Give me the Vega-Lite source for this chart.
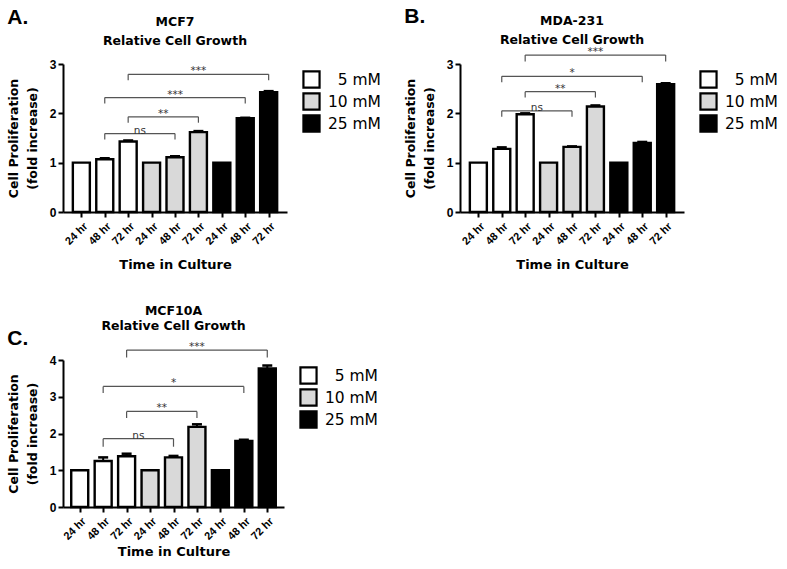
{
  "$schema": "https://vega.github.io/schema/vega-lite/v6.json",
  "background": "white",
  "padding": {"left": 7, "top": 5, "right": 5, "bottom": 2},
  "datasets": {
    "barsA": [
      {"pos": 1, "time": "24 hr", "conc": "5 mM", "value": 1.0, "err": 0, "upper": 1.0},
      {"pos": 2, "time": "48 hr", "conc": "5 mM", "value": 1.07, "err": 0.02, "upper": 1.09},
      {"pos": 3, "time": "72 hr", "conc": "5 mM", "value": 1.43, "err": 0.02, "upper": 1.45},
      {"pos": 4, "time": "24 hr", "conc": "10 mM", "value": 1.0, "err": 0, "upper": 1.0},
      {"pos": 5, "time": "48 hr", "conc": "10 mM", "value": 1.11, "err": 0.02, "upper": 1.13},
      {"pos": 6, "time": "72 hr", "conc": "10 mM", "value": 1.62, "err": 0.02, "upper": 1.64},
      {"pos": 7, "time": "24 hr", "conc": "25 mM", "value": 1.0, "err": 0, "upper": 1.0},
      {"pos": 8, "time": "48 hr", "conc": "25 mM", "value": 1.90, "err": 0.01, "upper": 1.91},
      {"pos": 9, "time": "72 hr", "conc": "25 mM", "value": 2.43, "err": 0.02, "upper": 2.45}
    ],
    "barsB": [
      {"pos": 1, "time": "24 hr", "conc": "5 mM", "value": 1.0, "err": 0, "upper": 1.0},
      {"pos": 2, "time": "48 hr", "conc": "5 mM", "value": 1.28, "err": 0.03, "upper": 1.31},
      {"pos": 3, "time": "72 hr", "conc": "5 mM", "value": 1.98, "err": 0.02, "upper": 2.0},
      {"pos": 4, "time": "24 hr", "conc": "10 mM", "value": 1.0, "err": 0, "upper": 1.0},
      {"pos": 5, "time": "48 hr", "conc": "10 mM", "value": 1.32, "err": 0.01, "upper": 1.33},
      {"pos": 6, "time": "72 hr", "conc": "10 mM", "value": 2.14, "err": 0.02, "upper": 2.16},
      {"pos": 7, "time": "24 hr", "conc": "25 mM", "value": 1.0, "err": 0, "upper": 1.0},
      {"pos": 8, "time": "48 hr", "conc": "25 mM", "value": 1.40, "err": 0.02, "upper": 1.42},
      {"pos": 9, "time": "72 hr", "conc": "25 mM", "value": 2.59, "err": 0.02, "upper": 2.61}
    ],
    "barsC": [
      {"pos": 1, "time": "24 hr", "conc": "5 mM", "value": 1.0, "err": 0, "upper": 1.0},
      {"pos": 2, "time": "48 hr", "conc": "5 mM", "value": 1.25, "err": 0.1, "upper": 1.35},
      {"pos": 3, "time": "72 hr", "conc": "5 mM", "value": 1.38, "err": 0.07, "upper": 1.45},
      {"pos": 4, "time": "24 hr", "conc": "10 mM", "value": 1.0, "err": 0, "upper": 1.0},
      {"pos": 5, "time": "48 hr", "conc": "10 mM", "value": 1.35, "err": 0.04, "upper": 1.39},
      {"pos": 6, "time": "72 hr", "conc": "10 mM", "value": 2.18, "err": 0.07, "upper": 2.25},
      {"pos": 7, "time": "24 hr", "conc": "25 mM", "value": 1.0, "err": 0, "upper": 1.0},
      {"pos": 8, "time": "48 hr", "conc": "25 mM", "value": 1.80, "err": 0.03, "upper": 1.83},
      {"pos": 9, "time": "72 hr", "conc": "25 mM", "value": 3.77, "err": 0.08, "upper": 3.85}
    ],
    "brA": [
      {"from": 2, "to": 5, "mid": 3.5, "y": 1.59, "low": 1.47, "label": "ns"},
      {"from": 3, "to": 6, "mid": 4.5, "y": 1.93, "low": 1.81, "label": "**"},
      {"from": 2, "to": 8, "mid": 5, "y": 2.32, "low": 2.2, "label": "***"},
      {"from": 3, "to": 9, "mid": 6, "y": 2.79, "low": 2.67, "label": "***"}
    ],
    "brB": [
      {"from": 2, "to": 5, "mid": 3.5, "y": 2.05, "low": 1.93, "label": "ns"},
      {"from": 3, "to": 6, "mid": 4.5, "y": 2.44, "low": 2.32, "label": "**"},
      {"from": 2, "to": 8, "mid": 5, "y": 2.75, "low": 2.63, "label": "*"},
      {"from": 3, "to": 9, "mid": 6, "y": 3.18, "low": 3.05, "label": "***"}
    ],
    "brC": [
      {"from": 2, "to": 5, "mid": 3.5, "y": 1.86, "low": 1.64, "label": "ns"},
      {"from": 3, "to": 6, "mid": 4.5, "y": 2.6, "low": 2.42, "label": "**"},
      {"from": 2, "to": 8, "mid": 5, "y": 3.28, "low": 3.1, "label": "*"},
      {"from": 3, "to": 9, "mid": 6, "y": 4.27, "low": 4.07, "label": "***"}
    ]
  },
  "config": {
    "font": "Liberation Sans",
    "view": {"stroke": null},
    "axis": {
      "grid": false,
      "domainColor": "black",
      "domainWidth": 2,
      "tickColor": "black",
      "tickWidth": 2,
      "tickSize": 5,
      "labelFont": "Liberation Sans",
      "labelFontWeight": "bold",
      "labelColor": "black",
      "titleFont": "DejaVu Sans",
      "titleFontWeight": "bold",
      "titleColor": "black"
    },
    "legend": {
      "symbolType": "square",
      "symbolSize": 260,
      "symbolStrokeColor": "black",
      "symbolStrokeWidth": 2.2,
      "symbolOpacity": 1,
      "labelFont": "DejaVu Sans",
      "labelFontSize": 15.5,
      "labelColor": "black",
      "labelAlign": "right",
      "labelOffset": 60,
      "rowPadding": -6,
      "padding": 6,
      "offset": 9
    },
    "title": {
      "font": "DejaVu Sans",
      "fontWeight": "bold",
      "color": "black"
    }
  },
  "resolve": {"scale": {"color": "independent"}, "legend": {"color": "independent"}},
  "spacing": 32,
  "vconcat": [
    {
      "spacing": 17,
      "resolve": {"scale": {"color": "independent"}, "legend": {"color": "independent"}},
      "hconcat": [
        {
          "title": {"text": "A.", "anchor": "start", "font": "Liberation Sans", "fontSize": 21, "frame": "bounds", "offset": -12},
          "resolve": {"scale": {"color": "independent"}, "legend": {"color": "independent"}},
          "vconcat": [
            {
              "width": 224,
              "height": 148,
              "title": {"text": ["MCF7", "Relative Cell Growth"], "fontSize": 12.5, "lineHeight": 19, "offset": 11},
              "layer": [
                {
                  "data": {"name": "barsA"},
                  "mark": {"type": "bar", "width": 17, "stroke": "black", "strokeWidth": 2.4},
                  "encoding": {
                    "x": {"field": "pos", "type": "quantitative", "scale": {"domain": [0.43, 9.57], "nice": false, "zero": false},
                      "axis": {"title": "Time in Culture", "titleFontSize": 13, "titlePadding": 12, "values": [1, 2, 3, 4, 5, 6, 7, 8, 9], "tickCount": 20, "labelExpr": "['24 hr','48 hr','72 hr'][(datum.value - 1) % 3]", "labelAngle": -45, "labelFontSize": 11, "labelPadding": 3, "labelOverlap": false, "labelFlush": false}},
                    "y": {"field": "value", "type": "quantitative", "scale": {"domain": [0, 3], "nice": false},
                      "axis": {"title": ["Cell Proliferation", "(fold increase)"], "titleFontSize": 12.5, "titleLineHeight": 19, "titlePadding": 10, "values": [0, 1, 2, 3], "tickCount": 20, "format": "d", "labelFontSize": 12, "labelPadding": 2, "labelOverlap": false, "labelFlush": false}},
                    "color": {"field": "conc", "type": "nominal", "scale": {"domain": ["5 mM", "10 mM", "25 mM"], "range": ["white", "#d9d9d9", "black"]}, "legend": {"title": null}}
                  }
                },
                {
                  "data": {"name": "barsA"},
                  "transform": [{"filter": "datum.err > 0"}],
                  "mark": {"type": "rule", "strokeWidth": 2, "color": "black"},
                  "encoding": {"x": {"field": "pos", "type": "quantitative"}, "y": {"field": "value", "type": "quantitative"}, "y2": {"field": "upper"}}
                },
                {
                  "data": {"name": "barsA"},
                  "transform": [{"filter": "datum.err > 0"}],
                  "mark": {"type": "tick", "orient": "horizontal", "size": 10, "thickness": 2.5, "color": "black", "opacity": 1},
                  "encoding": {"x": {"field": "pos", "type": "quantitative"}, "y": {"field": "upper", "type": "quantitative"}}
                },
                {
                  "data": {"name": "brA"},
                  "mark": {"type": "rule", "strokeWidth": 1.2, "color": "#555"},
                  "encoding": {"x": {"field": "from", "type": "quantitative"}, "x2": {"field": "to"}, "y": {"field": "y", "type": "quantitative"}}
                },
                {
                  "data": {"name": "brA"},
                  "mark": {"type": "rule", "strokeWidth": 1.2, "color": "#555"},
                  "encoding": {"x": {"field": "from", "type": "quantitative"}, "y": {"field": "low", "type": "quantitative"}, "y2": {"field": "y"}}
                },
                {
                  "data": {"name": "brA"},
                  "mark": {"type": "rule", "strokeWidth": 1.2, "color": "#555"},
                  "encoding": {"x": {"field": "to", "type": "quantitative"}, "y": {"field": "low", "type": "quantitative"}, "y2": {"field": "y"}}
                },
                {
                  "data": {"name": "brA"},
                  "mark": {"type": "text", "baseline": "alphabetic", "dy": 0, "fontSize": 10.5, "color": "#333", "font": "DejaVu Sans"},
                  "encoding": {"x": {"field": "mid", "type": "quantitative"}, "y": {"field": "y", "type": "quantitative"}, "text": {"field": "label"}}
                }
              ]
            }
          ]
        },
        {
          "title": {"text": "B.", "anchor": "start", "font": "Liberation Sans", "fontSize": 21, "frame": "bounds", "offset": -12},
          "resolve": {"scale": {"color": "independent"}, "legend": {"color": "independent"}},
          "vconcat": [
            {
              "width": 224,
              "height": 148,
              "title": {"text": ["MDA-231", "Relative Cell  Growth"], "fontSize": 12.5, "lineHeight": 19, "offset": 1},
              "layer": [
                {
                  "data": {"name": "barsB"},
                  "mark": {"type": "bar", "width": 17, "stroke": "black", "strokeWidth": 2.4},
                  "encoding": {
                    "x": {"field": "pos", "type": "quantitative", "scale": {"domain": [0.43, 9.57], "nice": false, "zero": false},
                      "axis": {"title": "Time in Culture", "titleFontSize": 13, "titlePadding": 12, "values": [1, 2, 3, 4, 5, 6, 7, 8, 9], "tickCount": 20, "labelExpr": "['24 hr','48 hr','72 hr'][(datum.value - 1) % 3]", "labelAngle": -45, "labelFontSize": 11, "labelPadding": 3, "labelOverlap": false, "labelFlush": false}},
                    "y": {"field": "value", "type": "quantitative", "scale": {"domain": [0, 3], "nice": false},
                      "axis": {"title": ["Cell Proliferation", "(fold increase)"], "titleFontSize": 12.5, "titleLineHeight": 19, "titlePadding": 10, "values": [0, 1, 2, 3], "tickCount": 20, "format": "d", "labelFontSize": 12, "labelPadding": 2, "labelOverlap": false, "labelFlush": false}},
                    "color": {"field": "conc", "type": "nominal", "scale": {"domain": ["5 mM", "10 mM", "25 mM"], "range": ["white", "#d9d9d9", "black"]}, "legend": {"title": null}}
                  }
                },
                {
                  "data": {"name": "barsB"},
                  "transform": [{"filter": "datum.err > 0"}],
                  "mark": {"type": "rule", "strokeWidth": 2, "color": "black"},
                  "encoding": {"x": {"field": "pos", "type": "quantitative"}, "y": {"field": "value", "type": "quantitative"}, "y2": {"field": "upper"}}
                },
                {
                  "data": {"name": "barsB"},
                  "transform": [{"filter": "datum.err > 0"}],
                  "mark": {"type": "tick", "orient": "horizontal", "size": 10, "thickness": 2.5, "color": "black", "opacity": 1},
                  "encoding": {"x": {"field": "pos", "type": "quantitative"}, "y": {"field": "upper", "type": "quantitative"}}
                },
                {
                  "data": {"name": "brB"},
                  "mark": {"type": "rule", "strokeWidth": 1.2, "color": "#555"},
                  "encoding": {"x": {"field": "from", "type": "quantitative"}, "x2": {"field": "to"}, "y": {"field": "y", "type": "quantitative"}}
                },
                {
                  "data": {"name": "brB"},
                  "mark": {"type": "rule", "strokeWidth": 1.2, "color": "#555"},
                  "encoding": {"x": {"field": "from", "type": "quantitative"}, "y": {"field": "low", "type": "quantitative"}, "y2": {"field": "y"}}
                },
                {
                  "data": {"name": "brB"},
                  "mark": {"type": "rule", "strokeWidth": 1.2, "color": "#555"},
                  "encoding": {"x": {"field": "to", "type": "quantitative"}, "y": {"field": "low", "type": "quantitative"}, "y2": {"field": "y"}}
                },
                {
                  "data": {"name": "brB"},
                  "mark": {"type": "text", "baseline": "alphabetic", "dy": 0, "fontSize": 10.5, "color": "#333", "font": "DejaVu Sans"},
                  "encoding": {"x": {"field": "mid", "type": "quantitative"}, "y": {"field": "y", "type": "quantitative"}, "text": {"field": "label"}}
                }
              ]
            }
          ]
        }
      ]
    },
    {
      "title": {"text": "C.", "anchor": "start", "font": "Liberation Sans", "fontSize": 21, "frame": "bounds", "offset": -44},
      "resolve": {"scale": {"color": "independent"}, "legend": {"color": "independent"}},
      "vconcat": [
        {
          "width": 221,
          "height": 147,
          "title": {"text": ["MCF10A", "Relative Cell Growth"], "fontSize": 12.5, "lineHeight": 15, "offset": 10},
          "layer": [
            {
              "data": {"name": "barsC"},
              "mark": {"type": "bar", "width": 17, "stroke": "black", "strokeWidth": 2.4},
              "encoding": {
                "x": {"field": "pos", "type": "quantitative", "scale": {"domain": [0.5, 9.5], "nice": false, "zero": false},
                  "axis": {"title": "Time in Culture", "titleFontSize": 13, "titlePadding": 4, "values": [1, 2, 3, 4, 5, 6, 7, 8, 9], "tickCount": 20, "labelExpr": "['24 hr','48 hr','72 hr'][(datum.value - 1) % 3]", "labelAngle": -45, "labelFontSize": 11, "labelPadding": 3, "labelOverlap": false, "labelFlush": false}},
                "y": {"field": "value", "type": "quantitative", "scale": {"domain": [0, 4], "nice": false},
                  "axis": {"title": ["Cell Proliferation", "(fold increase)"], "titleFontSize": 12.5, "titleLineHeight": 19, "titlePadding": 10, "values": [0, 1, 2, 3, 4], "tickCount": 20, "format": "d", "labelFontSize": 12, "labelPadding": 2, "labelOverlap": false, "labelFlush": false}},
                "color": {"field": "conc", "type": "nominal", "scale": {"domain": ["5 mM", "10 mM", "25 mM"], "range": ["white", "#d9d9d9", "black"]}, "legend": {"title": null}}
              }
            },
            {
              "data": {"name": "barsC"},
              "transform": [{"filter": "datum.err > 0"}],
              "mark": {"type": "rule", "strokeWidth": 2, "color": "black"},
              "encoding": {"x": {"field": "pos", "type": "quantitative"}, "y": {"field": "value", "type": "quantitative"}, "y2": {"field": "upper"}}
            },
            {
              "data": {"name": "barsC"},
              "transform": [{"filter": "datum.err > 0"}],
              "mark": {"type": "tick", "orient": "horizontal", "size": 10, "thickness": 2.5, "color": "black", "opacity": 1},
              "encoding": {"x": {"field": "pos", "type": "quantitative"}, "y": {"field": "upper", "type": "quantitative"}}
            },
            {
              "data": {"name": "brC"},
              "mark": {"type": "rule", "strokeWidth": 1.2, "color": "#555"},
              "encoding": {"x": {"field": "from", "type": "quantitative"}, "x2": {"field": "to"}, "y": {"field": "y", "type": "quantitative"}}
            },
            {
              "data": {"name": "brC"},
              "mark": {"type": "rule", "strokeWidth": 1.2, "color": "#555"},
              "encoding": {"x": {"field": "from", "type": "quantitative"}, "y": {"field": "low", "type": "quantitative"}, "y2": {"field": "y"}}
            },
            {
              "data": {"name": "brC"},
              "mark": {"type": "rule", "strokeWidth": 1.2, "color": "#555"},
              "encoding": {"x": {"field": "to", "type": "quantitative"}, "y": {"field": "low", "type": "quantitative"}, "y2": {"field": "y"}}
            },
            {
              "data": {"name": "brC"},
              "mark": {"type": "text", "baseline": "alphabetic", "dy": 0, "fontSize": 10.5, "color": "#333", "font": "DejaVu Sans"},
              "encoding": {"x": {"field": "mid", "type": "quantitative"}, "y": {"field": "y", "type": "quantitative"}, "text": {"field": "label"}}
            }
          ]
        }
      ]
    }
  ]
}
